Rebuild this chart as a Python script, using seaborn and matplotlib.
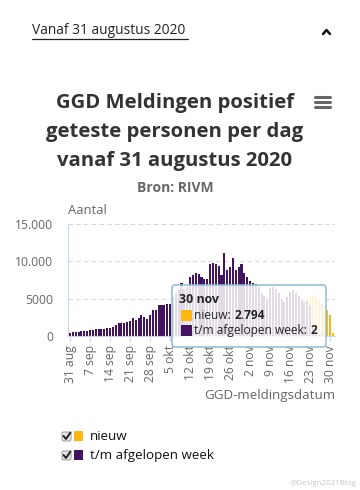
import matplotlib
matplotlib.use("Agg")
import matplotlib.pyplot as plt
import seaborn as sns
import pandas as pd
from matplotlib.patches import FancyBboxPatch, Rectangle
from matplotlib.lines import Line2D

# ---------------- data ----------------
tick_labels = ["31 aug", "7 sep", "14 sep", "21 sep", "28 sep", "5 okt", "12 okt",
               "19 okt", "26 okt", "2 nov", "9 nov", "16 nov", "23 nov", "30 nov"]

# t/m afgelopen week (31 aug .. 1 dec)
afgelopen_week = [
    420, 560, 580, 600, 640, 620, 650,
    820, 860, 880, 900, 950, 1000, 1020,
    1120, 1250, 1520, 1700, 1800, 1750, 1820,
    1950, 2350, 2150, 2450, 2750, 2500, 2300,
    2850, 3450, 3500, 4200, 4150, 4100, 4300,
    4250, 5200, 5800, 6200, 7100, 6300, 6500,
    7900, 8200, 8450, 8300, 7900, 7700, 7600,
    9650, 9750, 9650, 9400, 8200, 11100, 8850,
    9300, 10400, 8850, 9300, 9700, 8400, 7900,
    7400, 7100, 7000, 6500, 5800, 5300, 4900,
    6400, 6600, 6300, 5700, 5000, 4600, 5200,
    5900, 6100, 5800, 5300, 4800, 4500, 4700,
    4000, 900, 300, 150, 80, 30, 10,
    2, 0,
]
# nieuw
nieuw = [
    0, 0, 0, 0, 0, 0, 0,
    0, 0, 0, 0, 0, 0, 0,
    0, 0, 0, 0, 0, 0, 0,
    0, 0, 0, 0, 0, 0, 0,
    0, 0, 0, 0, 0, 0, 0,
    0, 0, 0, 0, 0, 0, 0,
    0, 0, 0, 0, 0, 0, 0,
    0, 0, 0, 0, 0, 0, 0,
    0, 0, 0, 0, 0, 0, 0,
    0, 0, 0, 0, 0, 0, 0,
    0, 0, 0, 0, 0, 0, 0,
    50, 80, 100, 150, 200, 250, 400,
    1300, 4600, 5000, 4700, 4200, 3500, 3450,
    2794, 400,
]
y_ticks = [0, 5000, 10000, 15000]
y_tick_labels = ["0", "5000", "10.000", "15.000"]

# ---------------- style ----------------
sns.set_theme(style="white")
plt.rcParams["font.family"] = ["Open Sans", "DejaVu Sans"]

YELLOW = "#FFB612"
PURPLE = "#42145F"
GREY = "#666666"

W, H = 360, 490
fig = plt.figure(figsize=(W / 100, H / 100), dpi=100)
fig.patch.set_facecolor("white")


def fx(x):
    return x / W


def fy(y):
    return 1 - y / H


df = pd.DataFrame({
    "dag": list(range(len(afgelopen_week))),
    "week": afgelopen_week,
    "nieuw": nieuw,
})
df["totaal"] = df["week"] + df["nieuw"]

ax = fig.add_axes([fx(68), fy(336), fx(335) - fx(68), (336 - 224) / H])
sns.barplot(data=df, x="dag", y="totaal", color=YELLOW, saturation=1,
            width=0.72, linewidth=0, ax=ax)
sns.barplot(data=df, x="dag", y="week", color=PURPLE, saturation=1,
            width=0.72, linewidth=0, ax=ax)

ax.set_xlim(-0.7, len(df) - 0.3)
ax.set_ylim(0, 15000)
ax.set_xlabel("")
ax.set_ylabel("")
ax.set_yticks(y_ticks)
ax.set_yticklabels(y_tick_labels, color=GREY, fontsize=8.7)
ax.set_xticks(list(range(0, 92, 7)))
ax.set_xticklabels(tick_labels, rotation=90, color=GREY, fontsize=8.7)
ax.tick_params(axis="y", length=0, pad=10.5)
ax.tick_params(axis="x", length=3.5, width=0.8, color="#ccd6eb", pad=3,
               direction="out", bottom=True)
ax.set_axisbelow(True)
ax.yaxis.grid(True, linestyle=(0, (4, 3)), color="#d9d9d9", linewidth=0.8)
ax.xaxis.grid(False)
for s in ["top", "right"]:
    ax.spines[s].set_visible(False)
ax.spines["left"].set_color("#ccd6eb")
ax.spines["left"].set_linewidth(0.8)
ax.spines["bottom"].set_color("#ccd6eb")
ax.spines["bottom"].set_linewidth(0.8)
ax.patch.set_alpha(0)

# ---------------- texts ----------------
fig.text(fx(32), fy(31), "Vanaf 31 augustus 2020", fontsize=9.9, color="#222222",
         ha="left", va="center")
fig.add_artist(Line2D([fx(32), fx(188)], [fy(39), fy(39)], color="#222222", lw=0.9))
fig.add_artist(Line2D([fx(323), fx(326.5), fx(330)], [fy(34), fy(30), fy(34)],
                      color="#111111", lw=1.8, solid_capstyle="round"))

title_lines = ["GGD Meldingen positief", "geteste personen per dag", "vanaf 31 augustus 2020"]
for i, t in enumerate(title_lines):
    fig.text(fx(175), fy(103 + 29 * i), t, fontsize=14.6, fontweight="bold",
             color="#333333", ha="center", va="center")
for yy in (97, 102, 107):
    fig.add_artist(Line2D([fx(315), fx(330)], [fy(yy), fy(yy)], color="#666666", lw=2.2))

fig.text(fx(175), fy(188), "Bron: RIVM", fontsize=10, fontweight="bold",
         color=GREY, ha="center", va="center")
fig.text(fx(68), fy(210), "Aantal", fontsize=9.4, color=GREY, ha="left", va="center")
fig.text(fx(335), fy(395), "GGD-meldingsdatum", fontsize=9.6, color=GREY,
         ha="right", va="center")

# ---------------- tooltip ----------------
tip = FancyBboxPatch((fx(172), fy(347)), fx(326) - fx(172), (347 - 285) / H,
                     boxstyle="round,pad=0,rounding_size=0.008",
                     transform=fig.transFigure, facecolor="white", alpha=0.85,
                     edgecolor="none", zorder=5)
fig.add_artist(tip)
tipb = FancyBboxPatch((fx(172), fy(347)), fx(326) - fx(172), (347 - 285) / H,
                      boxstyle="round,pad=0,rounding_size=0.008",
                      transform=fig.transFigure, facecolor="none",
                      edgecolor="#8fbcd0", lw=1.1, zorder=6)
fig.add_artist(tipb)
fig.text(fx(179), fy(299.5), "30 nov", fontsize=8.9, fontweight="bold",
         color="#222222", ha="left", va="center", zorder=7)
fig.add_artist(Rectangle((fx(180.5), fy(320.5)), fx(11), 10.5 / H, transform=fig.transFigure,
                         facecolor=YELLOW, edgecolor="none", zorder=7))
fig.add_artist(Rectangle((fx(180.5), fy(335.5)), fx(11), 10.5 / H, transform=fig.transFigure,
                         facecolor=PURPLE, edgecolor="none", zorder=7))

fig.canvas.draw()
renderer = fig.canvas.get_renderer()
for yy, lab, val in ((315.5, "nieuw: ", "2.794"), (330.5, "t/m afgelopen week: ", "2")):
    t1 = fig.text(fx(194.5), fy(yy), lab, fontsize=8.6, color="#222222",
                  ha="left", va="center", zorder=7)
    bb = t1.get_window_extent(renderer=renderer)
    fig.text(bb.x1 / fig.bbox.width, fy(yy), val, fontsize=8.6, fontweight="bold",
             color="#222222", ha="left", va="center", zorder=7)

# ---------------- legend ----------------
for yy, col, lab in ((436, YELLOW, "nieuw"), (455, PURPLE, "t/m afgelopen week")):
    fig.add_artist(FancyBboxPatch((fx(62), fy(yy + 5)), fx(9), 9 / H,
                                  boxstyle="round,pad=0,rounding_size=0.004",
                                  transform=fig.transFigure, facecolor="#e6e6e6",
                                  edgecolor="#9a9a9a", lw=0.7))
    fig.add_artist(Line2D([fx(63.5), fx(66), fx(70.5)],
                          [fy(yy), fy(yy + 3), fy(yy - 3.5)],
                          color="#222222", lw=1.4))
    fig.add_artist(Rectangle((fx(74), fy(yy + 5)), fx(9), 10 / H,
                             transform=fig.transFigure, facecolor=col, edgecolor="none"))
    fig.text(fx(90), fy(yy), lab, fontsize=9.6, color="#111111", ha="left", va="center")

fig.text(fx(356), fy(483), "@Design2021Blog", fontsize=5.8, color="#c8c8c8",
         ha="right", va="center")

fig.savefig("out.png", dpi=100, facecolor="white")
